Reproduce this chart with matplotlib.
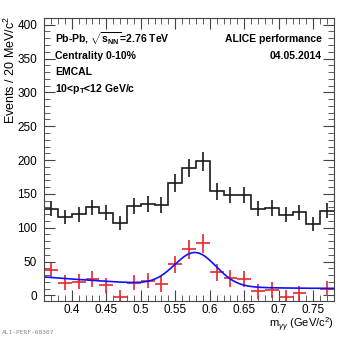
import numpy as np
import matplotlib
matplotlib.use('Agg')
import matplotlib.pyplot as plt
from matplotlib.ticker import MultipleLocator

plt.rcParams['font.family'] = ['Liberation Sans', 'DejaVu Sans']
plt.rcParams['mathtext.fontset'] = 'custom'
plt.rcParams['mathtext.rm'] = 'Liberation Sans'
plt.rcParams['mathtext.it'] = 'Liberation Sans:italic'
plt.rcParams['mathtext.bf'] = 'Liberation Sans:bold'

# bin edges, 20 MeV bins
edges = np.round(np.arange(0.36, 0.7801, 0.02), 3)
centers = (edges[:-1] + edges[1:]) / 2

# same-event (total) counts
total = [128, 116, 120, 130, 122, 107, 132, 135, 134, 166, 188,
         198, 154, 148, 148, 128, 129, 119, 123, 105, 125]
# background subtracted counts
signal = [37, 19, 20, 24, 15, -3, 19, 22, 17, 46, 68,
          77, 34, 25, 24, 6, 8, -3, 3, -20, 10]

# fit: gauss + 2nd order polynomial (around x0)
fit_amp, fit_mean, fit_sigma = 49.0, 0.579, 0.030
bkg_x0, bkg_p0, bkg_p1, bkg_p2 = 0.57, 14.7, -40.0, 94.0

err = np.sqrt(total)

fig, ax = plt.subplots(figsize=(3.45, 3.38), dpi=100)
fig.subplots_adjust(left=0.128, right=0.968, bottom=0.110, top=0.947)

ax.stairs(total, edges, color='#1a1a1a', lw=1.2, baseline=None)
ax.errorbar(centers, total, yerr=err, fmt='none', ecolor='#1a1a1a', elinewidth=1.2)

ax.errorbar(centers, signal, yerr=err, xerr=0.01, fmt='none', ecolor='#e8262b', elinewidth=1.2)

xf = np.linspace(edges[0], edges[-1], 400)
d = xf - bkg_x0
yf = fit_amp * np.exp(-0.5 * ((xf - fit_mean) / fit_sigma) ** 2) + bkg_p0 + bkg_p1 * d + bkg_p2 * d ** 2
ax.plot(xf, yf, color='#1010ff', lw=1.2)

ax.set_xlim(0.36, 0.78)
ax.set_ylim(-8, 410)
ax.xaxis.set_minor_locator(MultipleLocator(0.01))
ax.yaxis.set_major_locator(MultipleLocator(50))
ax.yaxis.set_minor_locator(MultipleLocator(10))
ax.set_xticks(np.arange(0.4, 0.76, 0.05))
ax.set_xticklabels(['0.4', '0.45', '0.5', '0.55', '0.6', '0.65', '0.7', '0.75'])
ax.tick_params(which='both', direction='in', top=True, right=True, labelsize=8.5, color='#444444')
ax.tick_params(which='major', length=8)
ax.tick_params(which='minor', length=4)
ax.tick_params(axis='y', pad=5)
ax.tick_params(axis='x', pad=2)
for s in ax.spines.values():
    s.set_color('#444444')

fig.text(10 / 345, 1 - 16 / 338, 'Events / 20 MeV/$\\mathrm{c}^2$', fontsize=9,
         rotation=90, ha='center', va='top')
fig.text(334 / 345, 1 - 325 / 338, '$\\mathrm{m}_{\\gamma\\gamma}$ (GeV/$\\mathrm{c}^2$)',
         fontsize=8, ha='right', va='center')

kw = dict(transform=fig.transFigure, fontsize=7.5, fontweight='bold', va='center')
fig.text(55 / 345, 1 - 39 / 338, 'Pb-Pb, $\\mathbf{\\sqrt{s_{NN}}}$=2.76 TeV', **kw)
fig.text(55 / 345, 1 - 56 / 338, 'Centrality 0-10%', **kw)
fig.text(55 / 345, 1 - 72 / 338, 'EMCAL', **kw)
fig.text(55 / 345, 1 - 89 / 338, '10<$\\mathbf{p_T}$<12 GeV/c', **kw)
fig.text(322 / 345, 1 - 39 / 338, 'ALICE performance', ha='right', **kw)
fig.text(322 / 345, 1 - 56 / 338, '04.05.2014', ha='right', **kw)

fig.text(2 / 345, 1 - 333 / 338, 'ALI-PERF-68307', fontsize=4.5, family='DejaVu Sans Mono',
         color='#888888', va='center')

plt.savefig('out.png', dpi=100)
